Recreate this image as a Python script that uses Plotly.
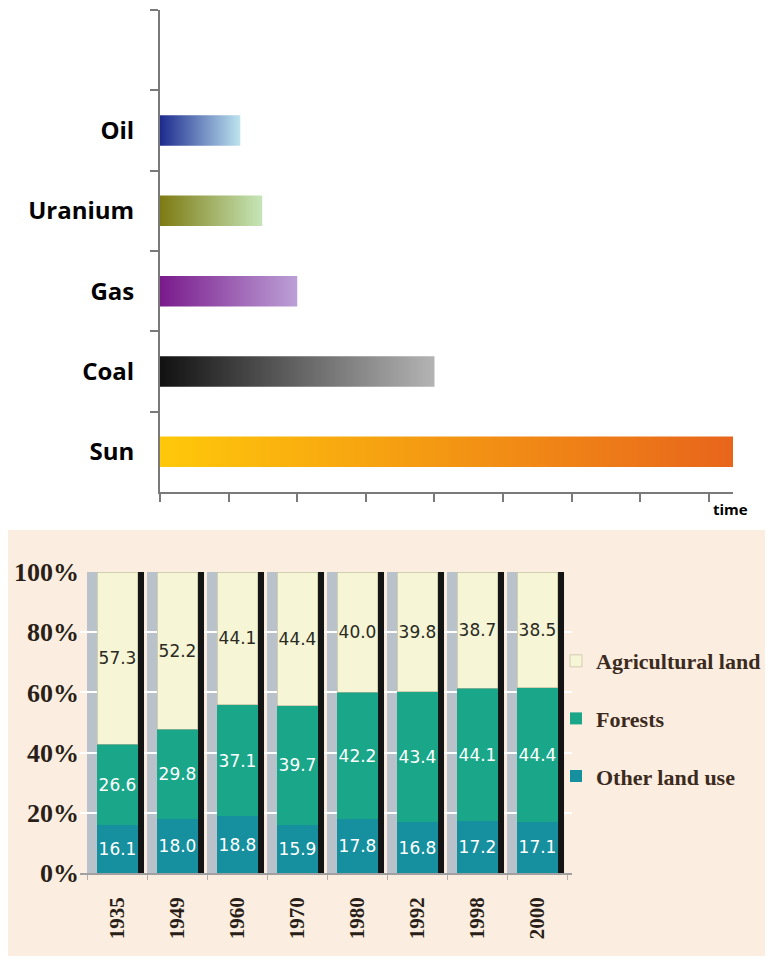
import plotly.graph_objects as go

# ---------------- data: top chart ----------------
sources = ["Sun", "Coal", "Gas", "Uranium", "Oil"]
durations = [8.44, 4.0, 2.0, 1.49, 1.17]
grad_start = ["#ffc80a", "#111111", "#7a1a8c", "#7d7a12", "#1c2a8e"]
grad_end = ["#e8641c", "#b4b4b4", "#bca0d6", "#c6e6b8", "#bde4ef"]

# ---------------- data: bottom chart ----------------
years = ["1935", "1949", "1960", "1970", "1980", "1992", "1998", "2000"]
other_land = [16.1, 18.0, 18.8, 15.9, 17.8, 16.8, 17.2, 17.1]
forests = [26.6, 29.8, 37.1, 39.7, 42.2, 43.4, 44.1, 44.4]
agricultural = [57.3, 52.2, 44.1, 44.4, 40.0, 39.8, 38.7, 38.5]
pct_ticks = [0, 20, 40, 60, 80, 100]

W, H = 773, 963
OFF = 8  # page body margin


def fx(v):  # viewport px -> paper x
    return (v - OFF) / W


def fy(v):  # viewport px -> paper y
    return 1 - (v - OFF) / H


fig = go.Figure()

# gradient bars (top) drawn as filled rectangles with horizontal gradients
half = 0.19
for i, (name, v) in enumerate(zip(sources, durations)):
    fig.add_trace(go.Scatter(
        x=[0, v, v, 0, 0], y=[i - half, i - half, i + half, i + half, i - half],
        mode="lines", line=dict(width=0), fill="toself",
        fillgradient=dict(type="horizontal",
                          colorscale=[[0, grad_start[i]], [1, grad_end[i]]]),
        xaxis="x", yaxis="y", showlegend=False, hoverinfo="skip", name=name))

# stacked bars (bottom)
bw = 0.683
label_font = dict(family="DejaVu Sans", size=17)
fig.add_trace(go.Bar(x=years, y=other_land, name="Other land use", width=bw,
                     marker=dict(color="#168f9e", line=dict(width=0)),
                     text=[f"{v:.1f}" for v in other_land], textposition="inside",
                     insidetextanchor="middle", textangle=0,
                     textfont=dict(color="white", **label_font),
                     xaxis="x2", yaxis="y2", legendgroup="c", legendrank=3))
fig.add_trace(go.Bar(x=years, y=forests, name="Forests", width=bw,
                     marker=dict(color="#19a689", line=dict(width=0)),
                     text=[f"{v:.1f}" for v in forests], textposition="inside",
                     insidetextanchor="middle", textangle=0,
                     textfont=dict(color="white", **label_font),
                     xaxis="x2", yaxis="y2", legendgroup="b", legendrank=2))
fig.add_trace(go.Bar(x=years, y=agricultural, name="Agricultural land", width=bw,
                     marker=dict(color="#f6f5d6", line=dict(width=0.6, color="#b8b69a")),
                     text=[f"{v:.1f}" for v in agricultural], textposition="inside",
                     insidetextanchor="middle", textangle=0,
                     textfont=dict(color="#2a2a1e", **label_font),
                     xaxis="x2", yaxis="y2", legendgroup="a", legendrank=1))

shapes = [dict(type="rect", xref="paper", yref="paper", x0=fx(8), x1=fx(790),
               y0=fy(956), y1=fy(530), fillcolor="#fbeee0",
               line=dict(width=0), layer="below")]
for i in range(len(years)):
    shapes.append(dict(type="rect", xref="x2", yref="y2", x0=i - 0.508, x1=i - 0.342,
                       y0=0, y1=100, fillcolor="#b9c1cb", line=dict(width=0), layer="below"))
    shapes.append(dict(type="rect", xref="x2", yref="y2", x0=i + 0.342, x1=i + 0.442,
                       y0=0, y1=100, fillcolor="#141414", line=dict(width=0), layer="above"))

axis_grey = "#7a7a7a"
serif_bold = dict(family="Liberation Serif", weight="bold", color="#2a1f18")

fig.update_layout(
    width=W, height=H, autosize=False,
    margin=dict(l=0, r=0, t=0, b=0, autoexpand=False),
    paper_bgcolor="white", plot_bgcolor="rgba(0,0,0,0)",
    barmode="stack",
    uniformtext=dict(minsize=17, mode="show"),
    shapes=shapes,
    xaxis=dict(domain=[fx(160), fx(733)], range=[0, 8.35], anchor="y", automargin=False,
               showline=True, linecolor=axis_grey, linewidth=2,
               ticks="outside", ticklen=8, tickwidth=2, tickcolor=axis_grey,
               tick0=0, dtick=1, showticklabels=False, showgrid=False, zeroline=False),
    yaxis=dict(domain=[fy(492), fy(10)], range=[-0.5, 5.5], anchor="x", automargin=False,
               tickvals=list(range(len(sources))), ticktext=sources, ticks="",
               showline=True, linecolor=axis_grey, linewidth=2,
               minor=dict(tickvals=[k + 0.5 for k in range(6)], ticks="outside",
                          ticklen=8, tickwidth=2, tickcolor=axis_grey, showgrid=False),
               ticklabelstandoff=19,
               tickfont=dict(family="Open Sans", weight="bold", size=24, color="black"),
               showgrid=False, zeroline=False),
    xaxis2=dict(domain=[fx(80), fx(572)], anchor="y2", type="category", automargin=False,
                range=[-0.625, 7.575], showline=True, linecolor="#a0a0a0", linewidth=1.5,
                ticks="outside", tickson="boundaries", ticklen=5, tickcolor="#b0b0b0",
                tickangle=-90, ticklabelstandoff=14,
                tickfont=dict(size=21, **serif_bold), showgrid=False, zeroline=False),
    yaxis2=dict(domain=[fy(873), fy(572)], anchor="x2", range=[0, 100], automargin=False,
                tickvals=pct_ticks, ticktext=[f"{v}%" for v in pct_ticks], ticks="",
                showgrid=True, gridcolor="white", gridwidth=2, zeroline=False,
                showline=False, tickfont=dict(size=26, **serif_bold)),
    legend=dict(x=fx(556), y=fy(640), xanchor="left", yanchor="top",
                bgcolor="rgba(0,0,0,0)", traceorder="grouped",
                tracegroupgap=26, itemwidth=30,
                font=dict(size=22, family="Liberation Serif", weight="bold", color="#3b2a1e")),
    annotations=[dict(text="time", xref="paper", yref="paper", x=fx(711), y=fy(497),
                      xanchor="left", yanchor="top", showarrow=False,
                      font=dict(family="Open Sans", weight="bold", size=15, color="black"))],
)

fig.write_html("out.html")
